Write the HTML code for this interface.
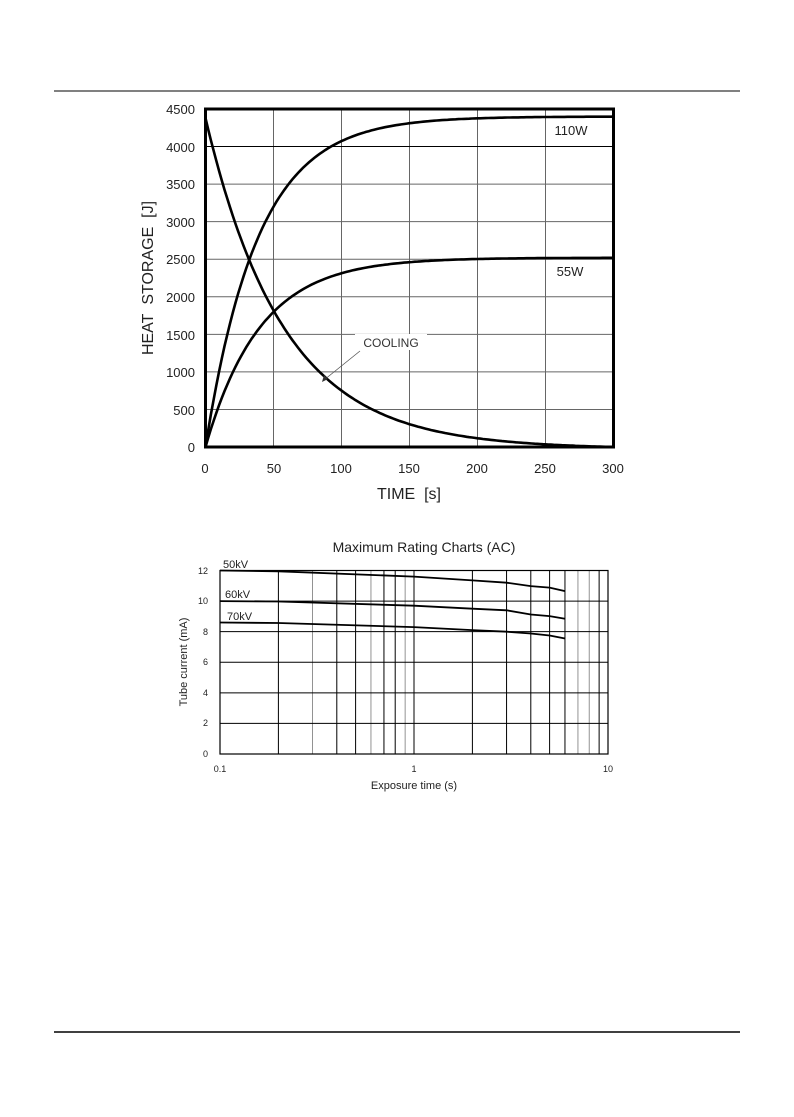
<!DOCTYPE html>
<html><head><meta charset="utf-8"><style>
html,body{margin:0;padding:0;background:#fff;}
svg{display:block}
</style></head><body>
<svg id="s" width="794" height="1117" xmlns="http://www.w3.org/2000/svg">
<line x1="54" y1="91" x2="740" y2="91" stroke="#000" stroke-width="1"/>
<line x1="54" y1="1032" x2="740" y2="1032" stroke="#000" stroke-width="1.5"/>
<g id="c1"></g>
<g id="c2"></g>
<g font-family="Liberation Sans, sans-serif" font-size="13" fill="#222" text-anchor="end">
<text x="195" y="114">4500</text><text x="195" y="152">4000</text><text x="195" y="189">3500</text>
<text x="195" y="227">3000</text><text x="195" y="264">2500</text><text x="195" y="302">2000</text>
<text x="195" y="340">1500</text><text x="195" y="377">1000</text><text x="195" y="415">500</text>
<text x="195" y="452">0</text>
</g>
<g font-family="Liberation Sans, sans-serif" font-size="13" fill="#222" text-anchor="middle">
<text x="205" y="473">0</text><text x="274" y="473">50</text><text x="341" y="473">100</text>
<text x="409" y="473">150</text><text x="477" y="473">200</text><text x="545" y="473">250</text>
<text x="613" y="473">300</text>
<text x="409" y="499" font-size="16">TIME&#160;&#160;[s]</text>
<text x="0" y="0" font-size="16" transform="translate(153,278) rotate(-90)">HEAT&#160;&#160;STORAGE&#160;&#160;[J]</text>
<text x="571" y="135" font-size="13">110W</text>
<text x="570" y="276" font-size="13">55W</text>
</g>
<rect x="355" y="334" width="72" height="16" fill="#fff"/>
<text x="391" y="347" font-family="Liberation Sans, sans-serif" font-size="12" fill="#333" text-anchor="middle">COOLING</text>
<line x1="360" y1="351" x2="324" y2="380" stroke="#555" stroke-width="0.8"/>
<path d="M322,382 l2,-7 l4,4 z" fill="#333"/>
<g font-family="Liberation Sans, DejaVu Sans, sans-serif" fill="#222">
<text x="424" y="552" font-size="14" text-anchor="middle">Maximum Rating Charts (AC)</text>
<text x="223" y="568" font-size="11">50kV</text>
<text x="225" y="598" font-size="11">60kV</text>
<text x="227" y="620" font-size="11">70kV</text>
<g font-size="9" text-anchor="end">
<text x="208" y="574">12</text><text x="208" y="604">10</text><text x="208" y="635">8</text>
<text x="208" y="665">6</text><text x="208" y="696">4</text><text x="208" y="726">2</text><text x="208" y="757">0</text>
</g>
<g font-size="9" text-anchor="middle">
<text x="220" y="772">0.1</text><text x="414" y="772">1</text><text x="608" y="772">10</text>
</g>
<text x="414" y="789" font-size="11" text-anchor="middle">Exposure time (s)</text>
<text x="0" y="0" font-size="11" text-anchor="middle" transform="translate(187,662) rotate(-90)">Tube current (mA)</text>
</g>
</svg>
<script>
var NS="http://www.w3.org/2000/svg";
function el(p,t,a){var e=document.createElementNS(NS,t);for(var k in a)e.setAttribute(k,a[k]);p.appendChild(e);return e;}
var c1=document.getElementById("c1");
var L=205.5,R=613.5,T=109,B=447;
function X(t){return L+(R-L)*t/300;}function Y(v){return B-(B-T)*v/4500;}
for(var i=1;i<6;i++)el(c1,"line",{x1:X(i*50),y1:T,x2:X(i*50),y2:B,stroke:"#666","stroke-width":1});
for(var i=1;i<9;i++)el(c1,"line",{x1:L,y1:Y(i*500),x2:R,y2:Y(i*500),stroke:i==8?"#000":"#666","stroke-width":1});
el(c1,"rect",{x:L,y:T,width:R-L,height:B-T,fill:"none",stroke:"#000","stroke-width":3});
function curve(f){var d="";for(var t=0;t<=300;t+=2){d+=(t?"L":"M")+X(t).toFixed(1)+","+Y(f(t)).toFixed(1);}el(c1,"path",{d:d,fill:"none",stroke:"#000","stroke-width":2.6});}
curve(function(t){return 4400*(1-Math.exp(-t/38.5));});
curve(function(t){return 2520*(1-Math.exp(-t/40));});
curve(function(t){return 4380*Math.exp(-t/57)-4380*Math.exp(-300/57)*t/300;});
var c2=document.getElementById("c2");
var L2=220,R2=608,T2=570.5,B2=754;
function X2(v){return L2+(R2-L2)*(Math.log10(v)+1)/2;}function Y2(v){return B2-(B2-T2)*v/12;}
[0.2,0.3,0.4,0.5,0.6,0.7,0.8,0.9,2,3,4,5,6,7,8,9].forEach(function(v){var g=[0.3,0.6,0.9,7,8].indexOf(v)>=0;el(c2,"line",{x1:X2(v),y1:T2,x2:X2(v),y2:B2,stroke:g?"#777":"#000","stroke-width":g?0.8:1});});
el(c2,"line",{x1:X2(1),y1:T2,x2:X2(1),y2:B2,stroke:"#000","stroke-width":1});
for(var i=1;i<6;i++)el(c2,"line",{x1:L2,y1:Y2(i*2),x2:R2,y2:Y2(i*2),stroke:"#000","stroke-width":1});
el(c2,"rect",{x:L2,y:T2,width:R2-L2,height:B2-T2,fill:"none",stroke:"#000","stroke-width":1.2});
function pl(pts){var d="";pts.forEach(function(p,i){d+=(i?"L":"M")+X2(p[0]).toFixed(1)+","+Y2(p[1]).toFixed(1);});el(c2,"path",{d:d,fill:"none",stroke:"#000","stroke-width":1.8});}
pl([[0.1,12],[0.2,11.95],[1,11.6],[2,11.35],[3,11.2],[4,10.98],[5,10.88],[6,10.65]]);
pl([[0.1,10],[0.2,9.97],[1,9.7],[2,9.5],[3,9.4],[4,9.12],[5,9.02],[6,8.85]]);
pl([[0.1,8.6],[0.2,8.57],[1,8.3],[2,8.1],[3,8.0],[4,7.88],[5,7.75],[6,7.55]]);
</script>
</body></html>
